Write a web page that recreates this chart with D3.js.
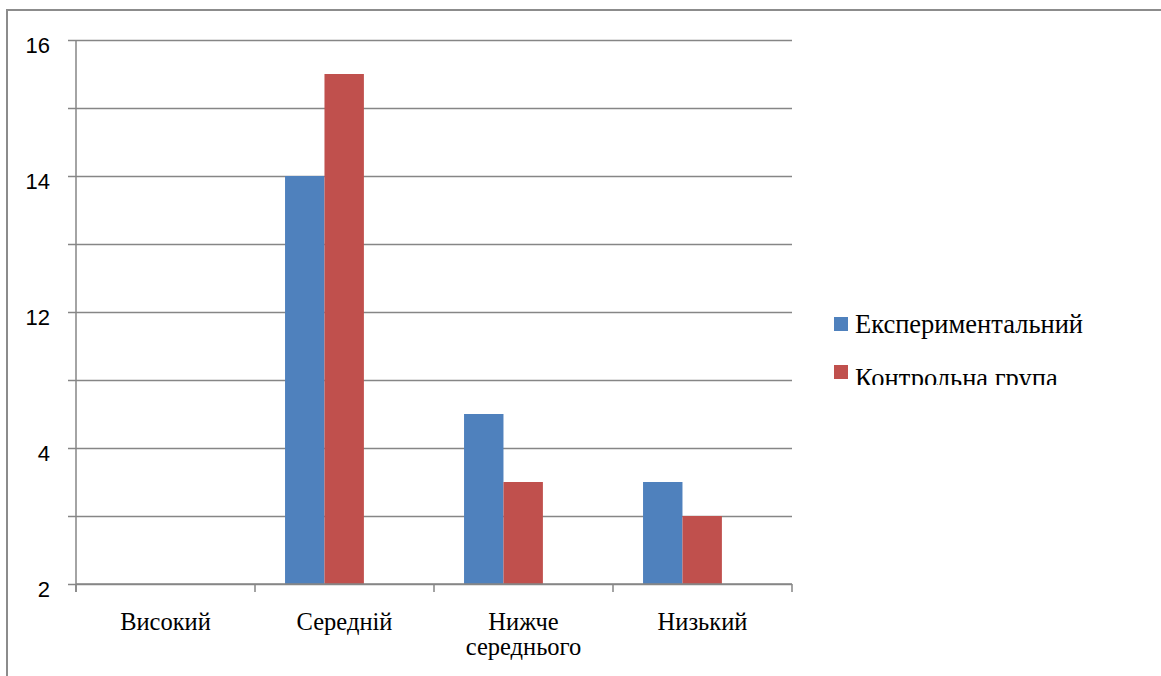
<!DOCTYPE html>
<html>
<head>
<meta charset="utf-8">
<script src="https://cdn.jsdelivr.net/npm/d3@7"></script>
<style>
  body { margin: 0; background: #fff; }
  svg { display: block; }
</style>
</head>
<body>
<div id="chart"></div>
<script>
// Chart data
const categories = ["Високий", "Середній", "Нижче середнього", "Низький"];
const seriesNames = ["Експериментальний", "Контрольна група"];
const experimental = [0, 6, 2.5, 1.5];
const control = [0, 7.5, 1.5, 1];
const tickValues = [0, 1, 2, 3, 4, 5, 6, 7, 8];
const tickLabels = ["2", "", "4", "", "12", "", "14", "", "16"];

const colors = ["#4F81BD", "#C0504D"];
const serif = "'Liberation Serif', 'Times New Roman', serif";

const width = 1161;
const height = 676;
const margin = {left: 76, right: 369, top: 40, bottom: 92};

const svg = d3.select("#chart")
  .append("svg")
  .attr("width", width)
  .attr("height", height);

// outer frame (left and top only, like the cropped original)
svg.append("line")
  .attr("x1", 7).attr("x2", 7).attr("y1", 10).attr("y2", height)
  .attr("stroke", "#8c8c8c").attr("stroke-width", 2);
svg.append("line")
  .attr("x1", 6).attr("x2", width).attr("y1", 10).attr("y2", 10)
  .attr("stroke", "#8c8c8c").attr("stroke-width", 2);

/*
  Scales
*/
const yScale = d3.scaleLinear()
  .domain([0, 8])
  .range([height - margin.bottom, margin.top]);

const xScale = d3.scaleBand()
  .domain(categories)
  .range([margin.left, width - margin.right]);

// bars sit a bit left of the category centre in the original
const xInner = d3.scaleBand()
  .domain(seriesNames)
  .range([0, xScale.bandwidth()])
  .paddingInner(0)
  .paddingOuter(1.27)
  .align(0.3);

/*
  Gridlines + y axis
*/
const yAxis = svg.append("g")
  .attr("transform", `translate(${margin.left},0)`)
  .call(d3.axisLeft(yScale)
    .tickValues(tickValues)
    .tickFormat((d, i) => tickLabels[i])
    .tickSize(-(width - margin.left - margin.right))
    .tickPadding(26));

yAxis.select(".domain").remove();
yAxis.selectAll(".tick line")
  .attr("x1", -8)
  .attr("stroke", "#868686")
  .attr("stroke-width", 1.5);
yAxis.selectAll(".tick text")
  .style("font-family", "'Liberation Sans', Arial, sans-serif")
  .style("font-size", "22px")
  .attr("fill", "#000")
  .attr("dy", "0.55em");

svg.append("line")
  .attr("x1", margin.left).attr("x2", margin.left)
  .attr("y1", margin.top).attr("y2", height - margin.bottom + 8)
  .attr("stroke", "#868686").attr("stroke-width", 1.5);

/*
  Bars
*/
const rows = categories.map((c, i) => ({cat: c, vals: [experimental[i], control[i]]}));

const groups = svg.selectAll(".group")
  .data(rows)
  .enter()
  .append("g")
  .attr("class", "group")
  .attr("transform", d => `translate(${xScale(d.cat)},0)`);

groups.selectAll("rect")
  .data(d => d.vals.map((v, j) => ({name: seriesNames[j], value: v, j: j})))
  .enter()
  .append("rect")
  .attr("x", d => xInner(d.name))
  .attr("y", d => yScale(d.value))
  .attr("width", xInner.bandwidth())
  .attr("height", d => yScale(0) - yScale(d.value))
  .attr("fill", d => colors[d.j]);

/*
  X axis
*/
const xAxis = svg.append("g")
  .attr("transform", `translate(0,${height - margin.bottom})`)
  .call(d3.axisBottom(xScale).tickSize(0).tickFormat(""));
xAxis.select(".domain")
  .attr("d", `M${margin.left},0H${width - margin.right}`)
  .attr("stroke", "#868686")
  .attr("stroke-width", 1.5);

const bounds = categories.map(c => xScale(c)).concat([width - margin.right]);
svg.selectAll(".xtick")
  .data(bounds)
  .enter()
  .append("line")
  .attr("class", "xtick")
  .attr("x1", d => d).attr("x2", d => d)
  .attr("y1", height - margin.bottom).attr("y2", height - margin.bottom + 8)
  .attr("stroke", "#868686").attr("stroke-width", 1.5);

const catLabels = svg.selectAll(".catlabel")
  .data(categories)
  .enter()
  .append("text")
  .attr("class", "catlabel")
  .attr("x", d => xScale(d) + xScale.bandwidth() / 2)
  .attr("y", height - margin.bottom + 46)
  .attr("text-anchor", "middle")
  .style("font-family", serif)
  .style("font-size", "24.5px")
  .attr("fill", "#000");

catLabels.each(function(d) {
  const words = d.split(" ");
  const t = d3.select(this);
  words.forEach((w, i) => {
    t.append("tspan")
      .attr("x", xScale(d) + xScale.bandwidth() / 2)
      .attr("dy", i === 0 ? 0 : 25)
      .text(w);
  });
});

/*
  Legend (clipped at the bottom like the original)
*/
svg.append("clipPath")
  .attr("id", "legclip")
  .append("rect")
  .attr("x", 820).attr("y", 290).attr("width", 340).attr("height", 95);

const legend = svg.append("g").attr("clip-path", "url(#legclip)");

const legItems = legend.selectAll(".leg")
  .data(seriesNames)
  .enter()
  .append("g")
  .attr("class", "leg")
  .attr("transform", (d, i) => `translate(834,${317 + i * 48})`);

legItems.append("rect")
  .attr("width", 14).attr("height", 14)
  .attr("fill", (d, i) => colors[i]);

legItems.append("text")
  .attr("x", 21)
  .attr("y", (d, i) => 16 + i * 6)
  .style("font-family", serif)
  .style("font-size", "26.5px")
  .attr("fill", "#000")
  .text(d => d);
</script>
</body>
</html>
